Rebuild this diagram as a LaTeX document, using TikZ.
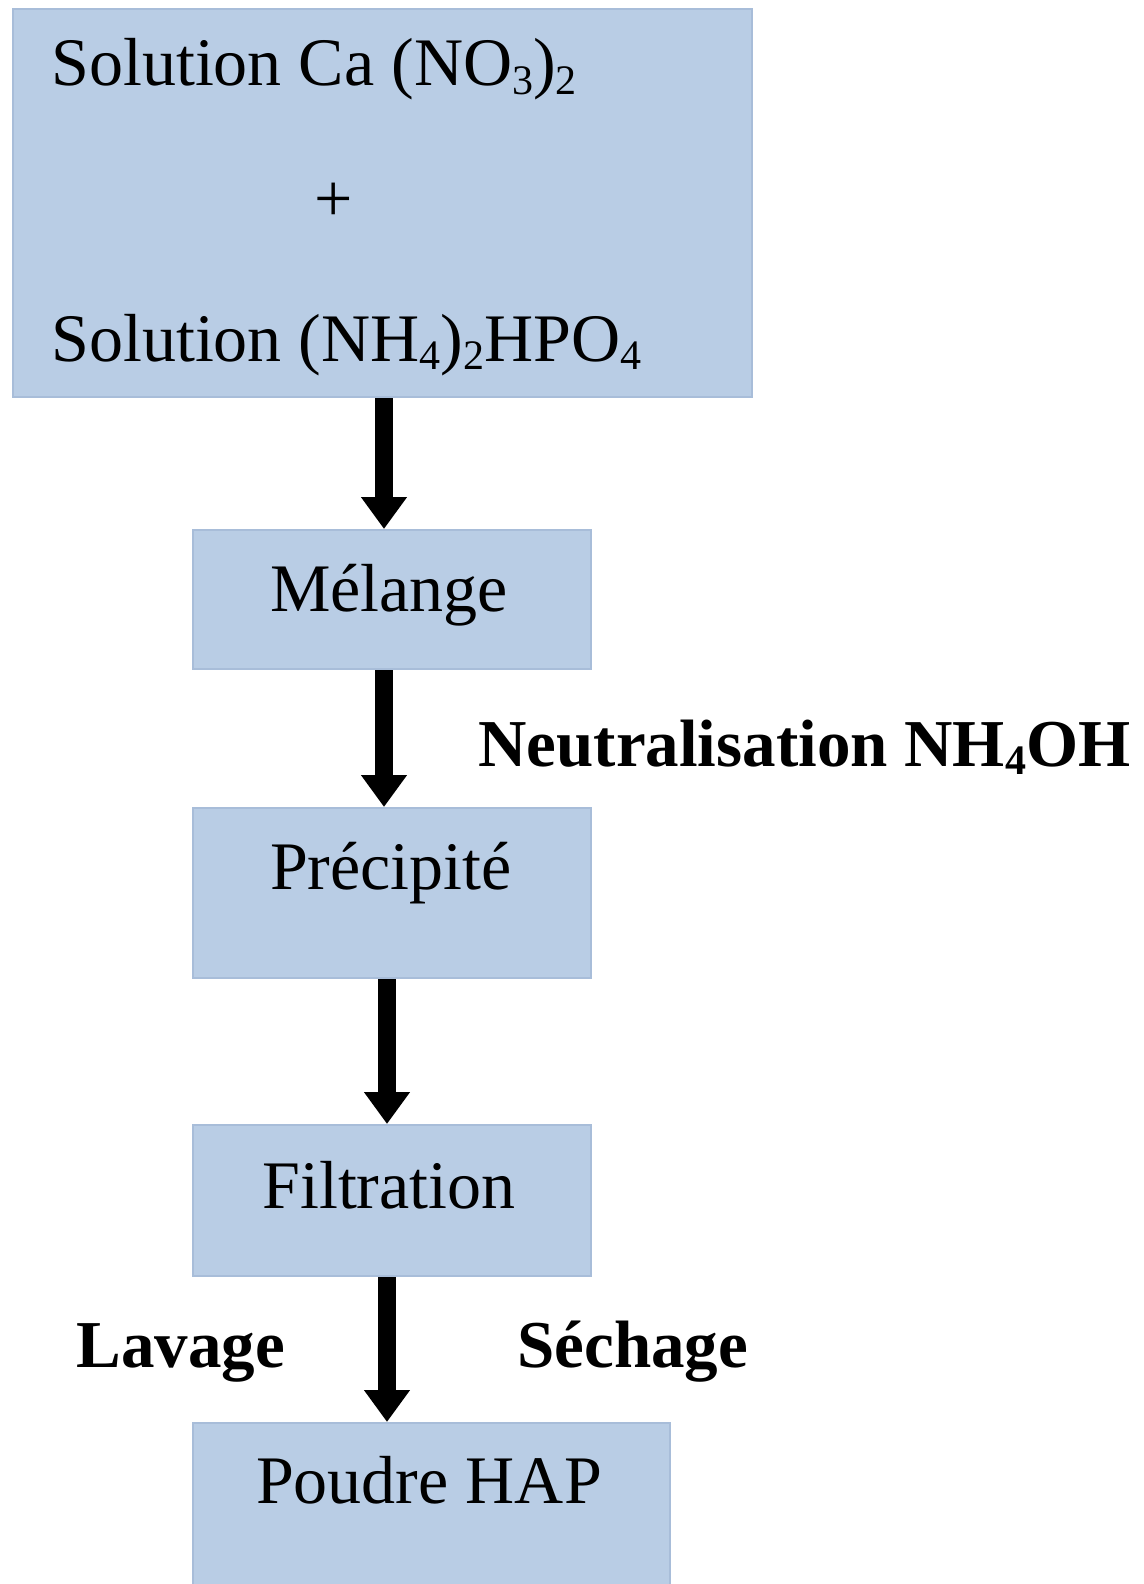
\documentclass[tikz,border=0pt]{standalone}
\usepackage{fontspec}
\setmainfont{Liberation Serif}
\usetikzlibrary{arrows.meta}
\definecolor{boxfill}{HTML}{B9CDE5}
\definecolor{boxline}{HTML}{A8BDD9}
\newcommand{\chsub}[1]{\raisebox{-0.12em}{\fontsize{21}{21}\selectfont #1}}
\begin{document}
\begin{tikzpicture}[x=0.5pt,y=-0.5pt,
  box/.style={draw=boxline, line width=1pt, fill=boxfill, anchor=north west, inner sep=0pt},
  lbl/.style={font=\fontsize{34}{40}\selectfont, inner sep=0pt},
  blbl/.style={font=\fontsize{33.5}{40}\selectfont\bfseries, inner sep=0pt},
  flow/.style={line width=9pt, -{Triangle[width=22pt,length=16pt]}}]
\useasboundingbox (0,0) rectangle (1144,1584);
\fill[white] (0,0) rectangle (1144,1584);
% boxes
\node[box, minimum width=369.5pt, minimum height=194pt] (src) at (12,8) {};
\node[box, minimum width=199pt, minimum height=69.5pt] (mel) at (192,529) {};
\node[box, minimum width=199pt, minimum height=85pt] (pre) at (192,807) {};
\node[box, minimum width=199pt, minimum height=75.5pt] (fil) at (192,1124) {};
\node[box, minimum width=238.5pt, minimum height=84pt] (pou) at (192,1422) {};
% texts
\node[lbl, anchor=base west] (t1) at (51,86) {Solution Ca (NO\chsub{3})\chsub{2}};
\node[lbl, anchor=center] (tplus) at (334,202) {+};
\node[lbl, anchor=base west] (t2) at (51,361) {Solution (NH\chsub{4})\chsub{2}HPO\chsub{4}};
\node[lbl, anchor=base] (tmel) at (389,611) {Mélange};
\node[blbl, anchor=base west] (tneu) at (478,766) {Neutralisation NH\chsub{4}OH};
\node[lbl, anchor=base] (tpre) at (391,889) {Précipité};
\node[lbl, anchor=base] (tfil) at (389,1208) {Filtration};
\node[blbl, anchor=base west] (tlav) at (76,1367) {Lavage};
\node[blbl, anchor=base west] (tsec) at (517,1367) {Séchage};
\node[lbl, anchor=base] (tpou) at (429,1503) {Poudre HAP};
% arrows
\coordinate (ax1) at (384,0);
\coordinate (ax2) at (387,0);
\draw[flow] (src.south -| ax1) -- (mel.north -| ax1);
\draw[flow] (mel.south -| ax1) -- (pre.north -| ax1);
\draw[flow] (pre.south -| ax2) -- (fil.north -| ax2);
\draw[flow] (fil.south -| ax2) -- (pou.north -| ax2);
\end{tikzpicture}
\end{document}
